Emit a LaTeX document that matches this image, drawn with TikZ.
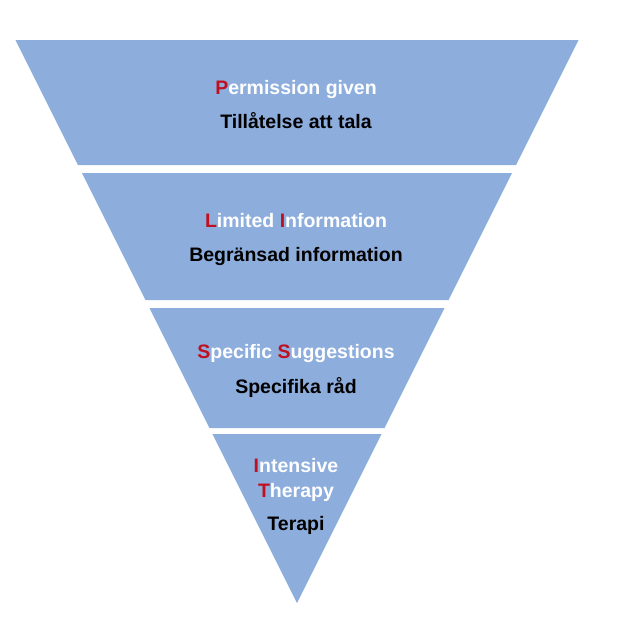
\documentclass[tikz,border=0pt]{standalone}
\usepackage{fontspec}
\setmainfont{Liberation Sans}
\usepackage{xcolor}
\usetikzlibrary{calc}
\definecolor{bandblue}{RGB}{141,173,221}
\definecolor{initred}{RGB}{192,16,32}
\newcommand{\ini}[1]{\textcolor{initred}{#1}}
\tikzset{
	band/.style={fill=bandblue},
	eng/.style={anchor=base,inner sep=0pt,text=white,font=\bfseries\fontsize{19.5}{23}\selectfont},
	swe/.style={anchor=base,inner sep=0pt,text=black,font=\bfseries\fontsize{19.5}{23}\selectfont},
}

\begin{document}
\begin{tikzpicture}[x=1pt,y=-1pt]
	\useasboundingbox (0,0) rectangle (617,629);
	% the four bands of the inverted triangle (apex at 297,603)
	\foreach \t/\b in {40/165,173/300,308/428}{
		\fill[band] ({297-(603-\t)/2},\t) -- ({297+(603-\t)/2},\t) -- ({297+(603-\b)/2},\b) -- ({297-(603-\b)/2},\b) -- cycle;
	}
	\fill[band] ({297-(603-434)/2},434) -- ({297+(603-434)/2},434) -- (297,603) -- cycle;
	
	\node[eng] (perm) at (296,94) {\ini{P}ermission given};
	\node[swe] (tala) at (296,128) {Tillåtelse att tala};
	
	\node[eng] (limit) at (296,227) {\ini{L}imited \ini{I}nformation};
	\node[swe] (begr) at (296,261) {Begränsad information};
	
	\node[eng] (spec) at (296,358) {\ini{S}pecific \ini{S}uggestions};
	\node[swe] (rad) at (296,393) {Specifika råd};
	
	\node[eng] (inten) at (296,472) {\ini{I}ntensive};
	\node[eng] (ther) at (296,497) {\ini{T}herapy};
	\node[swe] (terapi) at (296,530) {Terapi};
\end{tikzpicture}
\end{document}
